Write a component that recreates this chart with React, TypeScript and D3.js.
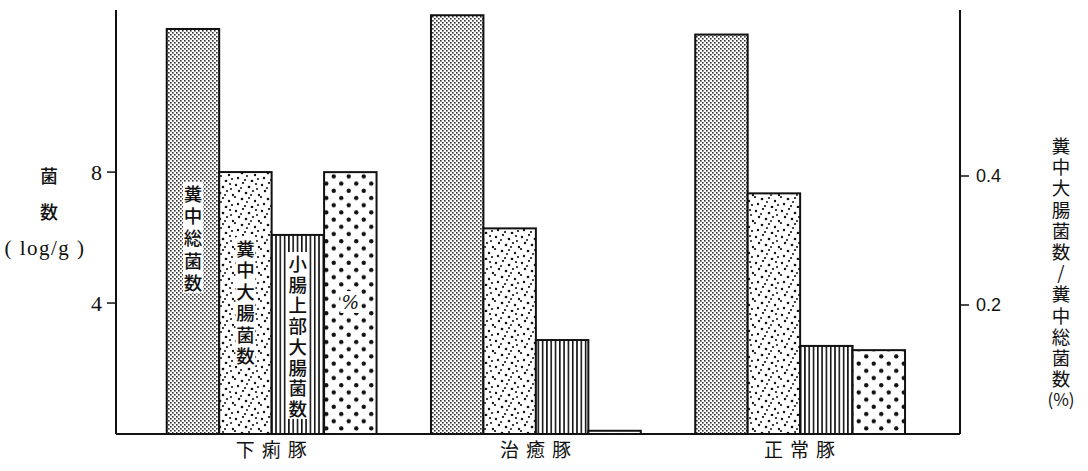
import React from "react";
import * as d3 from "d3";

const groups = ["下痢豚", "治癒豚", "正常豚"];
const seriesKeys = ["total", "coli", "upper", "ratio"];
const totalFecal = [12.37, 12.79, 12.2];
const fecalColi = [8.0, 6.28, 7.35];
const upperIntestine = [6.08, 2.87, 2.69];
const ratioPct = [0.406, 0.005, 0.13];
const leftTicks = [4, 8];
const rightTicks = [0.2, 0.4];
const barLabels = ["糞中総菌数", "糞中大腸菌数", "小腸上部大腸菌数", "%"];
const leftTitle = ["菌", "数"];
const leftUnit = "( log/g )";
const rightTitle = ["糞", "中", "大", "腸", "菌", "数", "/", "糞", "中", "総", "菌", "数"];
const rightUnit = "(%)";

const W = 1088;
const H = 471;
const axL = 116;
const axR = 960;
const base = 434;
const top = 10;

const stipple: [number, number, number][] = [
  [2, 3, 1.2], [9, 1, 1.1], [15, 5, 1.3], [22, 2, 1.1], [5, 9, 1.2], [12, 11, 1.3],
  [19, 9, 1.1], [25, 13, 1.2], [1, 15, 1.1], [8, 17, 1.3], [15, 16, 1.1], [21, 19, 1.2],
  [4, 22, 1.2], [11, 24, 1.1], [18, 25, 1.3], [24, 23, 1.1], [13, 20, 1.0], [7, 6, 1.0],
  [17, 13, 1.0], [23, 7, 1.0],
];

export default function App() {
  const yL = d3.scaleLinear().domain([0, 12.95]).range([base, top]);
  const yR = d3.scaleLinear().domain([0, 0.4]).range([base, 176]);
  const x0 = d3.scaleBand<string>().domain(groups).range([axL, axR]).paddingInner(0.206).paddingOuter(0.2).align(0.48);
  const x1 = d3.scaleBand<string>().domain(seriesKeys).range([0, x0.bandwidth()]);

  const fills = ["url(#p1)", "url(#p2)", "url(#p3)", "url(#p4)"];
  const bars: { x: number; y: number; w: number; h: number; fill: string; key: string }[] = [];
  groups.forEach((g, gi) => {
    const vals = [yL(totalFecal[gi]), yL(fecalColi[gi]), yL(upperIntestine[gi]), yR(ratioPct[gi])];
    seriesKeys.forEach((s, si) => {
      const x = (x0(g) as number) + (x1(s) as number);
      bars.push({ x, y: vals[si], w: x1.bandwidth(), h: base - vals[si], fill: fills[si], key: g + s });
    });
  });

  const jp = "'Noto Sans CJK JP', 'Noto Sans', sans-serif";
  const g0 = x0(groups[0]) as number;
  const labelStarts = [193, 248, 263, 302];
  const labelSpacing = [22.2, 21.4, 20.7, 0];

  return (
    <svg width={W} height={H} style={{ position: "fixed", left: 0, top: 0, background: "#fff" }}>
      <defs>
        <pattern id="p1" width={4} height={4} patternUnits="userSpaceOnUse">
          <rect width={4} height={4} fill="#fff" />
          <rect x={0} y={0} width={1.6} height={1.6} fill="#333" />
          <rect x={2} y={2} width={1.6} height={1.6} fill="#333" />
        </pattern>
        <pattern id="p2" width={26} height={26} patternUnits="userSpaceOnUse">
          <rect width={26} height={26} fill="#fff" />
          {stipple.map(([cx, cy, r], i) => (
            <circle key={i} cx={cx} cy={cy} r={r} fill="#111" />
          ))}
        </pattern>
        <pattern id="p3" width={4.3} height={10} patternUnits="userSpaceOnUse">
          <rect width={4.3} height={10} fill="#fff" />
          <rect x={0} y={0} width={1.6} height={10} fill="#111" />
        </pattern>
        <pattern id="p4" width={15} height={14.4} patternUnits="userSpaceOnUse">
          <rect width={15} height={14.4} fill="#fff" />
          <circle cx={3.75} cy={3.6} r={2.2} fill="#111" />
          <circle cx={11.25} cy={10.8} r={2.2} fill="#111" />
        </pattern>
      </defs>

      {bars.map((b) => (
        <rect key={b.key} x={b.x} y={b.y} width={b.w} height={b.h} fill={b.fill} stroke="#111" strokeWidth={2} />
      ))}

      {/* in-bar labels for first group */}
      {barLabels.map((lab, li) => {
        const cx = g0 + (x1(seriesKeys[li]) as number) + x1.bandwidth() / 2;
        const chars = Array.from(lab);
        const y0 = labelStarts[li];
        const sp = labelSpacing[li];
        const y1 = y0 + sp * (chars.length - 1);
        return (
          <g key={lab}>
            <rect x={cx - 10} y={y0 - 11} width={20} height={y1 - y0 + 22} fill="#fff" />
            {chars.map((c, ci) => (
              <text
                key={ci}
                x={cx}
                y={y0 + sp * ci}
                textAnchor="middle"
                dominantBaseline="central"
                fontFamily={c === "%" ? "'DejaVu Serif', serif" : jp}
                fontStyle={c === "%" ? "italic" : "normal"}
                fontWeight={c === "%" ? 400 : 500}
                fontSize={18.5}
                fill="#111"
              >
                {c}
              </text>
            ))}
          </g>
        );
      })}

      {/* axes */}
      <line x1={axL} x2={axR} y1={base} y2={base} stroke="#111" strokeWidth={1.8} />
      <line x1={axL} x2={axL} y1={top} y2={base} stroke="#111" strokeWidth={2} />
      <line x1={axR} x2={axR} y1={top} y2={base} stroke="#111" strokeWidth={2} />
      {leftTicks.map((t) => (
        <g key={t}>
          <line x1={axL - 9} x2={axL} y1={yL(t)} y2={yL(t)} stroke="#111" strokeWidth={1.5} />
          <text x={axL - 14} y={yL(t)} textAnchor="end" dominantBaseline="central" fontFamily="'Liberation Serif', serif" fontSize={22} fill="#111">
            {t}
          </text>
        </g>
      ))}
      {rightTicks.map((t) => (
        <g key={t}>
          <line x1={axR} x2={axR + 9} y1={yR(t)} y2={yR(t)} stroke="#111" strokeWidth={1.5} />
          <text x={axR + 16} y={yR(t)} textAnchor="start" dominantBaseline="central" fontFamily="'Liberation Sans', sans-serif" fontSize={18} fill="#111">
            {d3.format(".1f")(t)}
          </text>
        </g>
      ))}

      {/* x labels */}
      {groups.map((g) => (
        <text
          key={g}
          x={(x0(g) as number) + x0.bandwidth() / 2 + 3}
          y={448}
          textAnchor="middle"
          dominantBaseline="central"
          fontFamily={jp}
          fontSize={19}
          letterSpacing={7}
          fill="#111"
        >
          {g}
        </text>
      ))}

      {/* left title */}
      {leftTitle.map((c, i) => (
        <text key={i} x={49} y={175 + i * 36} textAnchor="middle" dominantBaseline="central" fontFamily={jp} fontSize={18} fontWeight={500} fill="#111">
          {c}
        </text>
      ))}
      <text x={45} y={248} textAnchor="middle" dominantBaseline="central" fontFamily="'Liberation Serif', serif" fontSize={21} letterSpacing={1.5} fill="#111">
        {leftUnit}
      </text>

      {/* right title */}
      {rightTitle.map((c, i) => (
        <text key={i} x={1061} y={145 + i * 21.2} textAnchor="middle" dominantBaseline="central" fontFamily={jp} fontSize={18.5} fill="#111">
          {c}
        </text>
      ))}
      <text x={1061} y={398} textAnchor="middle" dominantBaseline="central" fontFamily={jp} fontSize={17} fill="#111">
        {rightUnit}
      </text>
    </svg>
  );
}
